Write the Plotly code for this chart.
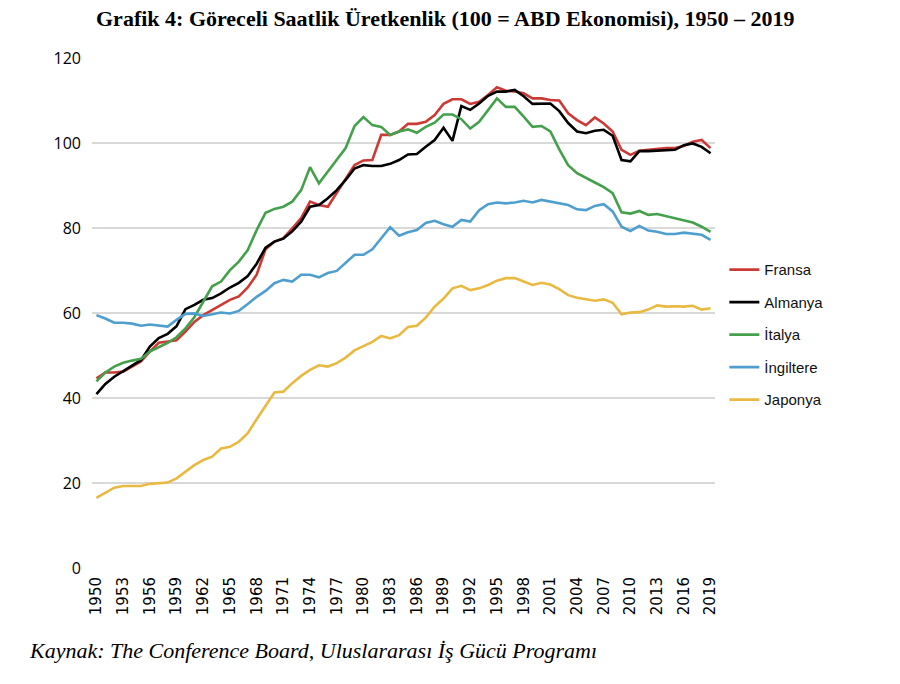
import plotly.graph_objects as go

years = list(range(1950, 2020))

fransa = [44.6, 46.0, 46.0, 46.2, 47.4, 48.6, 50.9, 53.0, 53.3, 53.6,
          55.6, 57.9, 59.5, 60.7, 61.9, 63.1, 63.9, 66.0, 69.0, 75.0,
          76.8, 77.6, 79.9, 82.3, 86.2, 85.4, 85.0, 88.2, 91.3, 94.8,
          95.9, 96.0, 101.9, 101.9, 102.7, 104.5, 104.5, 105.0, 106.6, 109.2,
          110.3, 110.3, 109.2, 109.7, 111.3, 113.1, 112.3, 112.1, 111.7, 110.5,
          110.5, 110.1, 110.0, 107.0, 105.4, 104.2, 106.0, 104.6, 102.7, 98.4,
          97.2, 98.2, 98.4, 98.6, 98.8, 98.8, 99.3, 100.3, 100.7, 98.8]

almanya = [40.9, 43.3, 45.0, 46.4, 47.6, 48.9, 52.1, 54.1, 55.1, 56.9,
           60.9, 61.9, 63.1, 63.5, 64.6, 66.0, 67.1, 68.7, 71.6, 75.4,
           76.8, 77.5, 79.2, 81.5, 85.0, 85.4, 87.0, 88.9, 91.3, 94.0,
           94.8, 94.6, 94.6, 95.1, 96.0, 97.3, 97.4, 99.1, 100.7, 103.6,
           100.5, 108.7, 107.8, 109.3, 111.1, 112.1, 112.1, 112.5, 111.0, 109.2,
           109.2, 109.3, 107.5, 104.7, 102.7, 102.3, 102.9, 103.1, 101.7, 96.0,
           95.7, 98.1, 98.1, 98.2, 98.4, 98.4, 99.5, 99.9, 99.1, 97.6]

italya = [43.9, 46.0, 47.4, 48.3, 48.8, 49.2, 50.9, 51.9, 53.0, 54.3,
          56.4, 59.0, 62.7, 66.3, 67.4, 70.1, 72.1, 74.8, 79.5, 83.6,
          84.5, 85.0, 86.2, 88.9, 94.3, 90.5, 93.3, 96.0, 98.8, 104.0,
          106.1, 104.2, 103.8, 101.9, 102.7, 103.2, 102.4, 103.8, 104.8, 106.7,
          106.7, 105.6, 103.4, 105.0, 107.8, 110.5, 108.5, 108.5, 106.2, 103.8,
          104.0, 102.7, 98.5, 94.8, 92.9, 91.7, 90.7, 89.6, 88.2, 83.7,
          83.4, 84.0, 83.1, 83.3, 82.8, 82.3, 81.7, 81.3, 80.3, 79.1]

ingiltere = [59.5, 58.7, 57.7, 57.7, 57.5, 57.0, 57.3, 57.1, 56.8, 58.4,
             59.8, 59.9, 59.3, 59.7, 60.1, 59.9, 60.5, 62.1, 63.8, 65.2,
             67.0, 67.8, 67.4, 69.0, 69.0, 68.4, 69.4, 69.9, 71.7, 73.7,
             73.7, 75.0, 77.6, 80.2, 78.2, 79.0, 79.5, 81.2, 81.7, 80.9,
             80.3, 81.9, 81.5, 84.2, 85.6, 86.0, 85.8, 86.0, 86.4, 86.0,
             86.6, 86.2, 85.8, 85.4, 84.4, 84.2, 85.2, 85.6, 83.9, 80.3,
             79.3, 80.5, 79.4, 79.1, 78.6, 78.6, 78.9, 78.7, 78.4, 77.2]

japonya = [16.5, 17.7, 18.9, 19.3, 19.3, 19.3, 19.8, 19.9, 20.1, 21.1,
           22.7, 24.2, 25.4, 26.2, 28.1, 28.5, 29.7, 31.7, 35.0, 38.3,
           41.3, 41.5, 43.5, 45.2, 46.6, 47.7, 47.4, 48.2, 49.5, 51.2,
           52.3, 53.2, 54.6, 54.0, 54.8, 56.7, 57.0, 58.9, 61.5, 63.4,
           65.8, 66.4, 65.4, 65.8, 66.6, 67.6, 68.2, 68.2, 67.4, 66.6,
           67.1, 66.7, 65.6, 64.2, 63.6, 63.3, 62.9, 63.2, 62.4, 59.7,
           60.1, 60.2, 60.8, 61.8, 61.5, 61.6, 61.5, 61.7, 60.8, 61.1]

series_names = ["Fransa", "Almanya", "İtalya", "İngiltere", "Japonya"]
series_values = [fransa, almanya, italya, ingiltere, japonya]
series_colors = ["#cc3a35", "#000000", "#45a04c", "#4e9fd0", "#e9b941"]

x_tick_vals = list(range(1950, 2020, 3))
y_tick_vals = [0, 20, 40, 60, 80, 100, 120]

title_text = "Grafik 4: Göreceli Saatlik Üretkenlik (100 = ABD Ekonomisi), 1950 – 2019"
source_text = "Kaynak: The Conference Board, Uluslararası İş Gücü Programı"

fig = go.Figure()
for name, vals, col in zip(series_names, series_values, series_colors):
    fig.add_trace(go.Scatter(
        x=years, y=vals, mode="lines", name=name, legendgroup=name,
        line=dict(color=col, width=2.6),
        hoverinfo="skip",
    ))

fig.update_layout(
    width=900, height=684,
    margin=dict(l=92, r=185, t=58, b=116),
    paper_bgcolor="white", plot_bgcolor="white",
    showlegend=True,
    legend=dict(
        x=1.015, y=0.617, xanchor="left", yanchor="top",
        font=dict(family="Liberation Sans, Arial, sans-serif", size=15, color="#111"),
        tracegroupgap=10, itemwidth=30,
        bgcolor="rgba(0,0,0,0)",
    ),
    annotations=[
        dict(text="<b>" + title_text + "</b>", xref="paper", yref="paper",
             x=(445 - 92) / 623, y=(568 - 18) / 510, xanchor="center", yanchor="middle",
             showarrow=False,
             font=dict(family="Liberation Serif, Times New Roman, serif", size=22, color="black")),
        dict(text="<i>" + source_text + "</i>", xref="paper", yref="paper",
             x=(27 - 92) / 623, y=(568 - 650) / 510, xanchor="left", yanchor="middle",
             showarrow=False,
             font=dict(family="Liberation Serif, Times New Roman, serif", size=22, color="black")),
    ],
)

fig.update_xaxes(
    range=[1949.5, 2019.5], tickmode="array", tickvals=x_tick_vals,
    ticktext=[str(v) for v in x_tick_vals], tickangle=-90,
    showgrid=False, showline=False, zeroline=False, ticks="", ticklabelstandoff=5,
    tickfont=dict(family="DejaVu Sans, sans-serif", size=15, color="black"),
)
fig.update_yaxes(
    range=[0, 120], tickmode="array", tickvals=y_tick_vals,
    showgrid=True, gridcolor="#d9d9d9", gridwidth=1.5,
    zeroline=False, showline=False, ticks="", ticklabelstandoff=10,
    tickfont=dict(family="Open Sans, sans-serif", size=16, color="black"),
)

fig.write_html("out.html")
